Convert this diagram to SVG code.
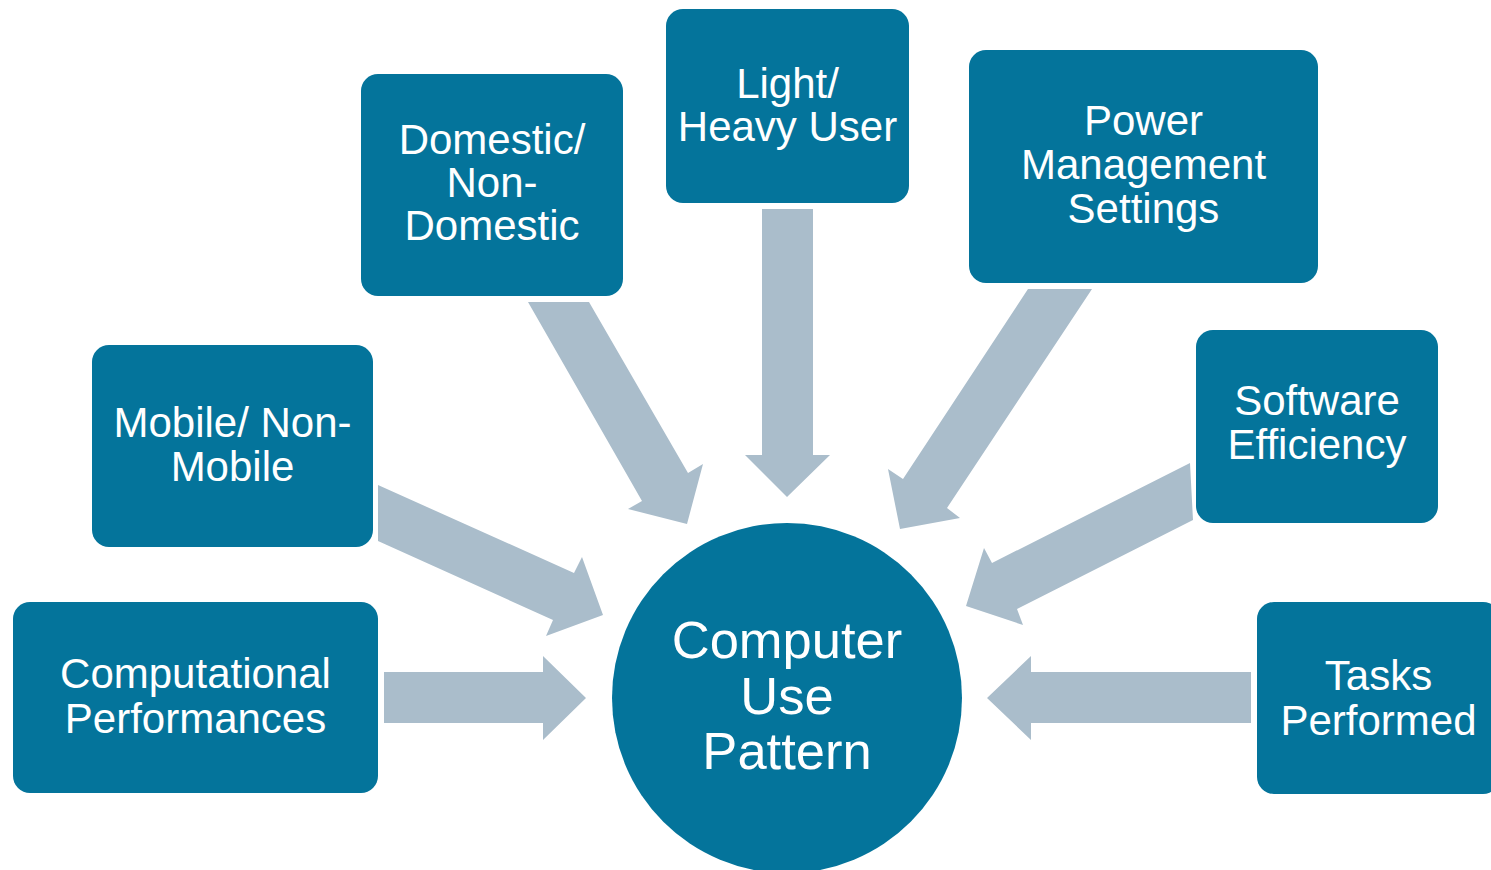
<svg xmlns="http://www.w3.org/2000/svg" width="1491" height="870" viewBox="0 0 1491 870">
  <style>
    .box { fill: #04749B; }
    .arrow { fill: #AABDCB; }
    .lbl { font-family: "Liberation Sans", Arial, sans-serif; font-size: 42px; fill: #FFFFFF; text-anchor: middle; }
    .hub { font-family: "Liberation Sans", Arial, sans-serif; font-size: 52.5px; fill: #FFFFFF; text-anchor: middle; }
  </style>
  <rect width="1491" height="870" fill="#FFFFFF"/>

  <!-- block arrows pointing into the hub -->
  <g id="connectors">
    <polygon class="arrow" points="384,672 543,672 543,656 586,698 543,740 543,723 384,723"/>
    <polygon class="arrow" points="1251,672 1031,672 1031,656 987,698 1031,740 1031,723 1251,723"/>
    <polygon class="arrow" points="762,209 813,209 813,455 830,455 787,497 745,455 762,455"/>
    <polygon class="arrow" points="528,302 589,302 688,473 703,464 687,524 628,509 642,501"/>
    <polygon class="arrow" points="1028,289 1092,289 947,508 960,518 900,529 888,469 903,479"/>
    <polygon class="arrow" points="378,485 574,573 582,557 603,615 546,636 553,620 378,541"/>
    <polygon class="arrow" points="1190,463 992,563 984,548 966,606 1023,625 1017,609 1193,520"/>
  </g>

  <g id="node-domestic">
    <rect class="box" x="361" y="74" width="262" height="222" rx="17"/>
    <text class="lbl" x="492" y="154">Domestic/</text>
    <text class="lbl" x="492" y="197">Non-</text>
    <text class="lbl" x="492" y="240">Domestic</text>
  </g>

  <g id="node-light-heavy">
    <rect class="box" x="666" y="9" width="243" height="194" rx="17"/>
    <text class="lbl" x="787.5" y="98">Light/</text>
    <text class="lbl" x="787.5" y="141">Heavy User</text>
  </g>

  <g id="node-power">
    <rect class="box" x="969" y="50" width="349" height="233" rx="17"/>
    <text class="lbl" x="1143.5" y="135">Power</text>
    <text class="lbl" x="1143.5" y="179">Management</text>
    <text class="lbl" x="1143.5" y="223">Settings</text>
  </g>

  <g id="node-software">
    <rect class="box" x="1196" y="330" width="242" height="193" rx="17"/>
    <text class="lbl" x="1317" y="415">Software</text>
    <text class="lbl" x="1317" y="459">Efficiency</text>
  </g>

  <g id="node-mobile">
    <rect class="box" x="92" y="345" width="281" height="202" rx="17"/>
    <text class="lbl" x="232.5" y="437">Mobile/ Non-</text>
    <text class="lbl" x="232.5" y="481">Mobile</text>
  </g>

  <g id="node-computational">
    <rect class="box" x="13" y="602" width="365" height="191" rx="17"/>
    <text class="lbl" x="195.5" y="688">Computational</text>
    <text class="lbl" x="195.5" y="733">Performances</text>
  </g>

  <g id="node-tasks">
    <rect class="box" x="1257" y="602" width="243" height="192" rx="17"/>
    <text class="lbl" x="1378.5" y="690">Tasks</text>
    <text class="lbl" x="1378.5" y="735">Performed</text>
  </g>

  <g id="node-hub">
    <circle class="box" cx="787" cy="698" r="175"/>
    <text class="hub" x="787" y="658">Computer</text>
    <text class="hub" x="787" y="714">Use</text>
    <text class="hub" x="787" y="769">Pattern</text>
  </g>
</svg>
